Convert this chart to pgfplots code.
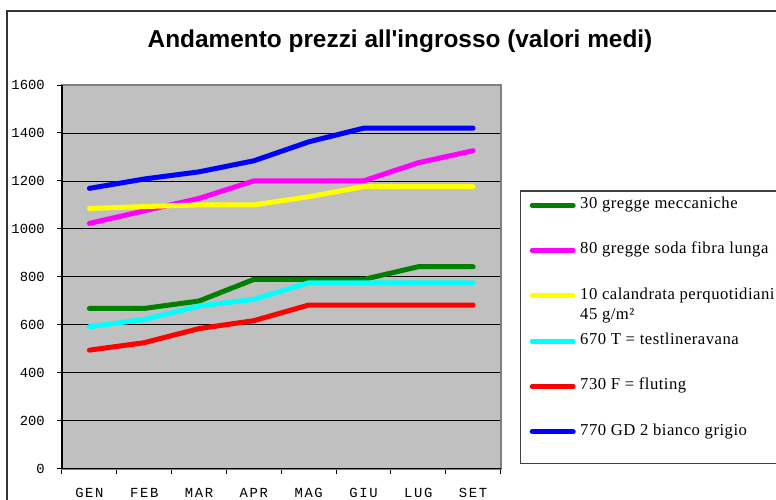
\documentclass[border=0pt]{standalone}
\usepackage{pgfplots}
\pgfplotsset{compat=1.18}
\usepackage{fontspec}
\setmainfont{Liberation Serif}
\newfontfamily\legfont[LetterSpace=3]{Liberation Serif}
\newfontfamily\titlefont{Liberation Sans}
\newfontfamily\monofont{Liberation Mono}
\newfontfamily\monox[LetterSpace=12]{Liberation Mono}
\definecolor{cgreen}{RGB}{0,128,0}
\definecolor{cmag}{RGB}{255,0,255}
\definecolor{cyel}{RGB}{255,255,0}
\definecolor{ccyan}{RGB}{0,255,255}
\definecolor{cred}{RGB}{255,0,0}
\definecolor{cblue}{RGB}{0,0,255}
\definecolor{plotbg}{RGB}{192,192,192}
\begin{document}
\begin{tikzpicture}
\begin{axis}[
  at={(46.5pt,23.6pt)}, anchor=south west,
  scale only axis, width=328.9pt, height=287.6pt,
  xmin=-0.5, xmax=7.5, ymin=0, ymax=1600,
  xtick={0,...,7},
  xticklabels={GEN,FEB,MAR,APR,MAG,GIU,LUG,SET},
  minor xtick={-0.5,0.5,...,7.5},
  ytick={0,200,...,1600},
  xtick pos=lower, ytick pos=left,
  tick align=outside,
  major tick length=3.75pt, minor tick length=3.75pt,
  tick style={black, line width=0.75pt},
  major x tick style={draw=none},
  ymajorgrids,
  grid style={black, line width=0.6pt},
  axis background/.style={fill=plotbg},
  axis line style={draw=black!50, line width=1.5pt},
  /pgf/number format/assume math mode=true,
  /pgf/number format/1000 sep={},
  yticklabel style={font=\monofont\fontsize{10.4}{12}\selectfont, inner sep=0pt, anchor=east, xshift=-9pt},
  xticklabel style={font=\monox\fontsize{10.4}{12}\selectfont, inner sep=0pt, anchor=center, yshift=-14.25pt},
  legend cell align=left,
  legend image code/.code={\draw[#1, line width=3.75pt, line cap=round] (0pt,0pt) -- (30.75pt,0pt);},
  legend style={draw=none, fill=none, inner sep=0pt, anchor=north west,
    at={(rel axis cs:1.066,0.7065)}, row sep=23pt, column sep=3.35pt,
    font=\legfont\fontsize{12.5}{15.5}\selectfont,
    nodes={inner sep=0pt, text height=8pt, text depth=3pt}},
  every axis plot/.append style={line width=3.75pt, line cap=round, line join=round},
  clip=false,
]
\addplot[cgreen] coordinates {(0,668) (1,668) (2,699) (3,789) (4,789) (5,789) (6,842) (7,842)};
\addlegendentry{30 gregge meccaniche}
\addplot[cmag] coordinates {(0,1023) (1,1075) (2,1127) (3,1200) (4,1200) (5,1200) (6,1276) (7,1326)};
\addlegendentry{80 gregge soda fibra lunga}
\addplot[cyel] coordinates {(0,1085) (1,1093) (2,1100) (3,1100) (4,1134) (5,1176) (6,1176) (7,1176)};
\addlegendentry{\parbox[t]{8cm}{10 calandrata perquotidiani\\45 g/m²}}
\addplot[ccyan] coordinates {(0,592) (1,622) (2,678) (3,706) (4,775) (5,775) (6,775) (7,775)};
\addlegendentry{670 T = testlineravana}
\addplot[cred] coordinates {(0,494) (1,525) (2,584) (3,617) (4,682) (5,682) (6,682) (7,682)};
\addlegendentry{730 F = fluting}
\addplot[cblue] coordinates {(0,1169) (1,1208) (2,1238) (3,1284) (4,1363) (5,1420) (6,1420) (7,1420)};
\addlegendentry{770 GD 2 bianco grigio}
\draw[black, line width=1.2pt] (rel axis cs:0,1) -- (rel axis cs:0,0) -- (rel axis cs:1,0);
\end{axis}
% outer chart frame
\draw[black!80, line width=1.5pt] (4.9pt,-5pt) -- (4.9pt,367.1pt) -- (600pt,367.1pt);
% legend box
\draw[black!75, line width=1.1pt] (600pt,231.75pt) -- (390.5pt,231.75pt) -- (390.5pt,27.5pt) -- (600pt,27.5pt);
% title
\node[anchor=base, font=\titlefont\bfseries\fontsize{18.3}{21}\selectfont] at (300pt,339.4pt) {Andamento prezzi all'ingrosso (valori medi)};
\pgfresetboundingbox
\useasboundingbox (0,0) rectangle (582pt,375pt);
\end{tikzpicture}
\end{document}
